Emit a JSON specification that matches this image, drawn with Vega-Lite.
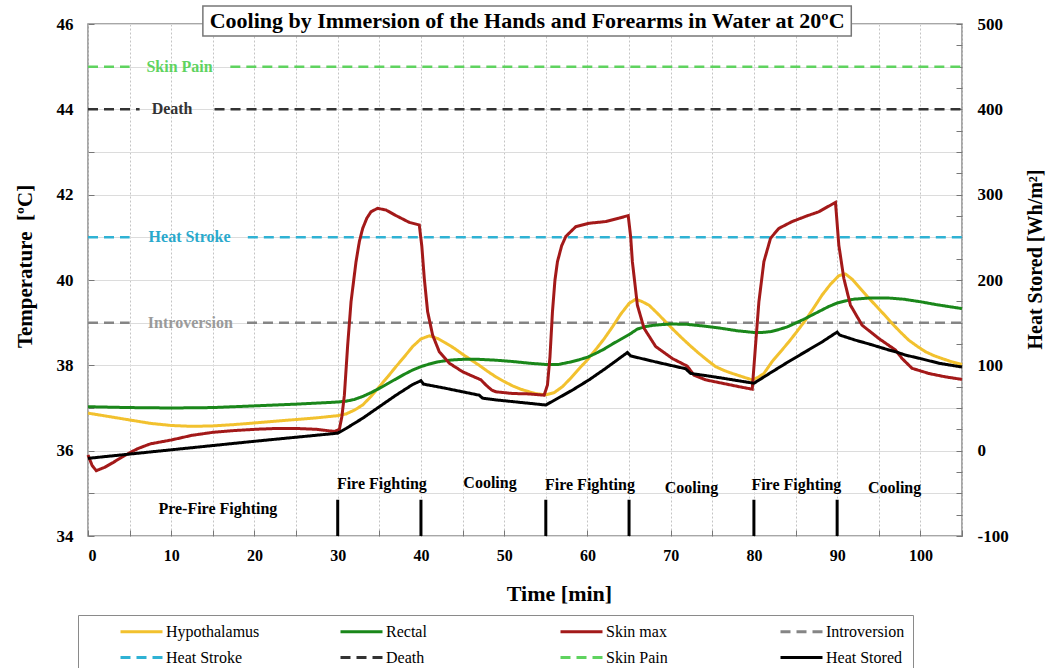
{
  "$schema": "https://vega.github.io/schema/vega-lite/v6.json",
  "width": 874,
  "height": 512,
  "autosize": "none",
  "padding": {"left": 88, "top": 24, "right": 86, "bottom": 132},
  "background": "white",
  "config": {
    "font": "Liberation Serif",
    "view": {"stroke": "#8a8a8a", "strokeWidth": 1.5},
    "axis": {"labelColor": "black", "titleColor": "black", "labelFont": "Liberation Serif", "titleFont": "Liberation Serif", "labelFontWeight": "bold", "titleFontWeight": "bold", "domain": false, "tickColor": "#777", "tickSize": -6}
  },
  "datasets": {
    "curves": [
      {"series":"Hypothalamus","t":0,"T":36.88},{"series":"Hypothalamus","t":2.5,"T":36.8},{"series":"Hypothalamus","t":5,"T":36.72},{"series":"Hypothalamus","t":7.5,"T":36.64},{"series":"Hypothalamus","t":10,"T":36.59},{"series":"Hypothalamus","t":12.5,"T":36.57},{"series":"Hypothalamus","t":15,"T":36.58},{"series":"Hypothalamus","t":17.5,"T":36.61},{"series":"Hypothalamus","t":20,"T":36.65},{"series":"Hypothalamus","t":22.5,"T":36.69},{"series":"Hypothalamus","t":25,"T":36.73},{"series":"Hypothalamus","t":27.5,"T":36.77},{"series":"Hypothalamus","t":30,"T":36.82},{"series":"Hypothalamus","t":31,"T":36.86},{"series":"Hypothalamus","t":32,"T":36.95},{"series":"Hypothalamus","t":33,"T":37.07},{"series":"Hypothalamus","t":34,"T":37.27},{"series":"Hypothalamus","t":35,"T":37.5},{"series":"Hypothalamus","t":36,"T":37.73},{"series":"Hypothalamus","t":37,"T":37.97},{"series":"Hypothalamus","t":38,"T":38.2},{"series":"Hypothalamus","t":39,"T":38.44},{"series":"Hypothalamus","t":40,"T":38.62},{"series":"Hypothalamus","t":41,"T":38.69},{"series":"Hypothalamus","t":42,"T":38.63},{"series":"Hypothalamus","t":43,"T":38.52},{"series":"Hypothalamus","t":44,"T":38.4},{"series":"Hypothalamus","t":45,"T":38.26},{"series":"Hypothalamus","t":46,"T":38.13},{"series":"Hypothalamus","t":47,"T":38.0},{"series":"Hypothalamus","t":48,"T":37.86},{"series":"Hypothalamus","t":49,"T":37.73},{"series":"Hypothalamus","t":50,"T":37.62},{"series":"Hypothalamus","t":51,"T":37.52},{"series":"Hypothalamus","t":52,"T":37.44},{"series":"Hypothalamus","t":53,"T":37.38},{"series":"Hypothalamus","t":54,"T":37.33},{"series":"Hypothalamus","t":55,"T":37.31},{"series":"Hypothalamus","t":56,"T":37.36},{"series":"Hypothalamus","t":57,"T":37.5},{"series":"Hypothalamus","t":58,"T":37.7},{"series":"Hypothalamus","t":59,"T":37.92},{"series":"Hypothalamus","t":60,"T":38.13},{"series":"Hypothalamus","t":61,"T":38.37},{"series":"Hypothalamus","t":62,"T":38.62},{"series":"Hypothalamus","t":63,"T":38.9},{"series":"Hypothalamus","t":64,"T":39.2},{"series":"Hypothalamus","t":65,"T":39.45},{"series":"Hypothalamus","t":65.8,"T":39.55},{"series":"Hypothalamus","t":66.5,"T":39.5},{"series":"Hypothalamus","t":67.4,"T":39.41},{"series":"Hypothalamus","t":68.4,"T":39.22},{"series":"Hypothalamus","t":69.4,"T":39.02},{"series":"Hypothalamus","t":70.4,"T":38.82},{"series":"Hypothalamus","t":71.4,"T":38.63},{"series":"Hypothalamus","t":72.4,"T":38.45},{"series":"Hypothalamus","t":73.4,"T":38.28},{"series":"Hypothalamus","t":74.4,"T":38.12},{"series":"Hypothalamus","t":75.4,"T":37.97},{"series":"Hypothalamus","t":76.4,"T":37.88},{"series":"Hypothalamus","t":77.4,"T":37.81},{"series":"Hypothalamus","t":78.5,"T":37.74},{"series":"Hypothalamus","t":79.8,"T":37.66},{"series":"Hypothalamus","t":80.5,"T":37.72},{"series":"Hypothalamus","t":81.2,"T":37.81},{"series":"Hypothalamus","t":82.2,"T":38.09},{"series":"Hypothalamus","t":83.2,"T":38.32},{"series":"Hypothalamus","t":84.2,"T":38.55},{"series":"Hypothalamus","t":85.2,"T":38.8},{"series":"Hypothalamus","t":86.2,"T":39.06},{"series":"Hypothalamus","t":87.2,"T":39.35},{"series":"Hypothalamus","t":88.2,"T":39.65},{"series":"Hypothalamus","t":89.2,"T":39.9},{"series":"Hypothalamus","t":90.2,"T":40.1},{"series":"Hypothalamus","t":91,"T":40.14},{"series":"Hypothalamus","t":91.8,"T":40.02},{"series":"Hypothalamus","t":92.6,"T":39.84},{"series":"Hypothalamus","t":93.6,"T":39.62},{"series":"Hypothalamus","t":94.6,"T":39.41},{"series":"Hypothalamus","t":95.6,"T":39.2},{"series":"Hypothalamus","t":96.6,"T":38.98},{"series":"Hypothalamus","t":97.6,"T":38.78},{"series":"Hypothalamus","t":98.6,"T":38.59},{"series":"Hypothalamus","t":99.6,"T":38.45},{"series":"Hypothalamus","t":100.6,"T":38.32},{"series":"Hypothalamus","t":101.6,"T":38.23},{"series":"Hypothalamus","t":102.6,"T":38.16},{"series":"Hypothalamus","t":103.8,"T":38.08},{"series":"Hypothalamus","t":105,"T":38.02},
      {"series":"Rectal","t":0,"T":37.03},{"series":"Rectal","t":5,"T":37.01},{"series":"Rectal","t":10,"T":37.0},{"series":"Rectal","t":15,"T":37.01},{"series":"Rectal","t":20,"T":37.05},{"series":"Rectal","t":25,"T":37.09},{"series":"Rectal","t":30,"T":37.14},{"series":"Rectal","t":31,"T":37.16},{"series":"Rectal","t":32,"T":37.2},{"series":"Rectal","t":33,"T":37.27},{"series":"Rectal","t":34,"T":37.36},{"series":"Rectal","t":35,"T":37.46},{"series":"Rectal","t":36,"T":37.57},{"series":"Rectal","t":37,"T":37.68},{"series":"Rectal","t":38,"T":37.79},{"series":"Rectal","t":39,"T":37.89},{"series":"Rectal","t":40,"T":37.97},{"series":"Rectal","t":41,"T":38.03},{"series":"Rectal","t":42,"T":38.08},{"series":"Rectal","t":43,"T":38.11},{"series":"Rectal","t":44,"T":38.13},{"series":"Rectal","t":45,"T":38.14},{"series":"Rectal","t":47,"T":38.14},{"series":"Rectal","t":49,"T":38.12},{"series":"Rectal","t":51,"T":38.09},{"series":"Rectal","t":53,"T":38.05},{"series":"Rectal","t":55,"T":38.02},{"series":"Rectal","t":56.5,"T":38.02},{"series":"Rectal","t":58,"T":38.08},{"series":"Rectal","t":59,"T":38.13},{"series":"Rectal","t":60,"T":38.19},{"series":"Rectal","t":61,"T":38.28},{"series":"Rectal","t":62,"T":38.38},{"series":"Rectal","t":63,"T":38.5},{"series":"Rectal","t":64,"T":38.61},{"series":"Rectal","t":65,"T":38.72},{"series":"Rectal","t":66,"T":38.85},{"series":"Rectal","t":67,"T":38.91},{"series":"Rectal","t":68,"T":38.94},{"series":"Rectal","t":70,"T":38.97},{"series":"Rectal","t":72,"T":38.96},{"series":"Rectal","t":74,"T":38.92},{"series":"Rectal","t":76,"T":38.87},{"series":"Rectal","t":78,"T":38.81},{"series":"Rectal","t":80,"T":38.77},{"series":"Rectal","t":81,"T":38.77},{"series":"Rectal","t":82,"T":38.79},{"series":"Rectal","t":83,"T":38.84},{"series":"Rectal","t":84,"T":38.9},{"series":"Rectal","t":85,"T":38.99},{"series":"Rectal","t":86,"T":39.08},{"series":"Rectal","t":87,"T":39.18},{"series":"Rectal","t":88,"T":39.28},{"series":"Rectal","t":89,"T":39.38},{"series":"Rectal","t":90,"T":39.46},{"series":"Rectal","t":91,"T":39.51},{"series":"Rectal","t":92,"T":39.55},{"series":"Rectal","t":94,"T":39.58},{"series":"Rectal","t":96,"T":39.58},{"series":"Rectal","t":98,"T":39.55},{"series":"Rectal","t":100,"T":39.49},{"series":"Rectal","t":102,"T":39.42},{"series":"Rectal","t":104,"T":39.36},{"series":"Rectal","t":105,"T":39.33},
      {"series":"Skin max","t":0,"T":35.9},{"series":"Skin max","t":0.5,"T":35.65},{"series":"Skin max","t":1,"T":35.53},{"series":"Skin max","t":2,"T":35.61},{"series":"Skin max","t":3,"T":35.72},{"series":"Skin max","t":4,"T":35.84},{"series":"Skin max","t":5,"T":35.95},{"series":"Skin max","t":6,"T":36.05},{"series":"Skin max","t":7.5,"T":36.16},{"series":"Skin max","t":10,"T":36.25},{"series":"Skin max","t":12.5,"T":36.36},{"series":"Skin max","t":15,"T":36.43},{"series":"Skin max","t":17.5,"T":36.47},{"series":"Skin max","t":20,"T":36.5},{"series":"Skin max","t":22.5,"T":36.52},{"series":"Skin max","t":25,"T":36.52},{"series":"Skin max","t":27.5,"T":36.5},{"series":"Skin max","t":29.6,"T":36.45},{"series":"Skin max","t":30.2,"T":36.5},{"series":"Skin max","t":30.5,"T":36.8},{"series":"Skin max","t":30.8,"T":37.3},{"series":"Skin max","t":31.2,"T":38.48},{"series":"Skin max","t":31.6,"T":39.49},{"series":"Skin max","t":32.2,"T":40.43},{"series":"Skin max","t":32.6,"T":40.9},{"series":"Skin max","t":33,"T":41.21},{"series":"Skin max","t":33.5,"T":41.45},{"series":"Skin max","t":34,"T":41.6},{"series":"Skin max","t":34.8,"T":41.68},{"series":"Skin max","t":35.8,"T":41.64},{"series":"Skin max","t":37,"T":41.51},{"series":"Skin max","t":38.6,"T":41.35},{"series":"Skin max","t":39.8,"T":41.29},{"series":"Skin max","t":40.1,"T":40.8},{"series":"Skin max","t":40.4,"T":40.04},{"series":"Skin max","t":40.8,"T":39.26},{"series":"Skin max","t":41.4,"T":38.71},{"series":"Skin max","t":42.2,"T":38.32},{"series":"Skin max","t":43.4,"T":38.05},{"series":"Skin max","t":45,"T":37.85},{"series":"Skin max","t":46.5,"T":37.72},{"series":"Skin max","t":47.2,"T":37.66},{"series":"Skin max","t":47.8,"T":37.54},{"series":"Skin max","t":48.5,"T":37.42},{"series":"Skin max","t":49,"T":37.38},{"series":"Skin max","t":51,"T":37.34},{"series":"Skin max","t":53,"T":37.33},{"series":"Skin max","t":54.8,"T":37.3},{"series":"Skin max","t":55.2,"T":37.54},{"series":"Skin max","t":55.5,"T":38.2},{"series":"Skin max","t":55.8,"T":39.26},{"series":"Skin max","t":56.1,"T":40.0},{"series":"Skin max","t":56.4,"T":40.43},{"series":"Skin max","t":56.9,"T":40.8},{"series":"Skin max","t":57.4,"T":41.02},{"series":"Skin max","t":58.6,"T":41.25},{"series":"Skin max","t":60.2,"T":41.33},{"series":"Skin max","t":62.2,"T":41.37},{"series":"Skin max","t":63.8,"T":41.45},{"series":"Skin max","t":64.9,"T":41.51},{"series":"Skin max","t":65.2,"T":41.0},{"series":"Skin max","t":65.4,"T":40.43},{"series":"Skin max","t":66,"T":39.41},{"series":"Skin max","t":66.8,"T":38.87},{"series":"Skin max","t":68.2,"T":38.44},{"series":"Skin max","t":70.2,"T":38.16},{"series":"Skin max","t":72,"T":37.98},{"series":"Skin max","t":72.8,"T":37.77},{"series":"Skin max","t":74.2,"T":37.66},{"series":"Skin max","t":76.2,"T":37.58},{"series":"Skin max","t":78.2,"T":37.5},{"series":"Skin max","t":79.8,"T":37.44},{"series":"Skin max","t":80.2,"T":38.48},{"series":"Skin max","t":80.6,"T":39.49},{"series":"Skin max","t":81.2,"T":40.43},{"series":"Skin max","t":82,"T":40.98},{"series":"Skin max","t":83,"T":41.21},{"series":"Skin max","t":84.6,"T":41.37},{"series":"Skin max","t":86.2,"T":41.49},{"series":"Skin max","t":87.8,"T":41.6},{"series":"Skin max","t":89.8,"T":41.82},{"series":"Skin max","t":90.2,"T":40.82},{"series":"Skin max","t":90.8,"T":40.04},{"series":"Skin max","t":91.6,"T":39.41},{"series":"Skin max","t":93,"T":38.94},{"series":"Skin max","t":95,"T":38.63},{"series":"Skin max","t":97,"T":38.36},{"series":"Skin max","t":97.8,"T":38.16},{"series":"Skin max","t":99,"T":37.93},{"series":"Skin max","t":101,"T":37.81},{"series":"Skin max","t":103,"T":37.73},{"series":"Skin max","t":105,"T":37.67}
    ],
    "heat": [
      {"series":"Heat Stored","t":0,"H":-9},{"series":"Heat Stored","t":10,"H":1},{"series":"Heat Stored","t":20,"H":11},{"series":"Heat Stored","t":30,"H":20.5},{"series":"Heat Stored","t":31,"H":26},{"series":"Heat Stored","t":33,"H":38},{"series":"Heat Stored","t":35,"H":51.5},{"series":"Heat Stored","t":37,"H":65},{"series":"Heat Stored","t":39,"H":77.5},{"series":"Heat Stored","t":40,"H":82},{"series":"Heat Stored","t":40.3,"H":78},{"series":"Heat Stored","t":43,"H":73},{"series":"Heat Stored","t":45,"H":69},{"series":"Heat Stored","t":47,"H":65},{"series":"Heat Stored","t":47.4,"H":61.5},{"series":"Heat Stored","t":49,"H":59.5},{"series":"Heat Stored","t":51,"H":57.5},{"series":"Heat Stored","t":53,"H":55.5},{"series":"Heat Stored","t":55,"H":53.5},{"series":"Heat Stored","t":58.2,"H":71},{"series":"Heat Stored","t":60.2,"H":83},{"series":"Heat Stored","t":62.2,"H":96.5},{"series":"Heat Stored","t":64.8,"H":115},{"series":"Heat Stored","t":65.2,"H":111},{"series":"Heat Stored","t":68.2,"H":104},{"series":"Heat Stored","t":71.8,"H":96},{"series":"Heat Stored","t":72.4,"H":90.5},{"series":"Heat Stored","t":74.2,"H":88},{"series":"Heat Stored","t":76.2,"H":85},{"series":"Heat Stored","t":80,"H":79},{"series":"Heat Stored","t":82.2,"H":92.5},{"series":"Heat Stored","t":84.2,"H":104.5},{"series":"Heat Stored","t":86.2,"H":116},{"series":"Heat Stored","t":88.2,"H":127.5},{"series":"Heat Stored","t":90,"H":139},{"series":"Heat Stored","t":90.3,"H":135.5},{"series":"Heat Stored","t":92.2,"H":129.5},{"series":"Heat Stored","t":94.2,"H":124},{"series":"Heat Stored","t":96.2,"H":118},{"series":"Heat Stored","t":97,"H":116},{"series":"Heat Stored","t":98.2,"H":112},{"series":"Heat Stored","t":100.2,"H":107.5},{"series":"Heat Stored","t":102.2,"H":102.5},{"series":"Heat Stored","t":105,"H":98}
    ],
    "thresholds": [
      {"series":"Skin Pain","T":45,"t":0,"t2":5.0},{"series":"Skin Pain","T":45,"t":17.1,"t2":105},
      {"series":"Death","T":44,"t":0,"t2":6.2},{"series":"Death","T":44,"t":15.2,"t2":105},
      {"series":"Heat Stroke","T":41,"t":0,"t2":5.0},{"series":"Heat Stroke","T":41,"t":19.2,"t2":105},
      {"series":"Introversion","T":39,"t":0,"t2":5.0},{"series":"Introversion","T":39,"t":19.1,"t2":105}
    ],
    "thrLabels": [
      {"series":"Skin Pain","t":11.0,"T":45},
      {"series":"Death","t":10.1,"T":44},
      {"series":"Heat Stroke","t":12.2,"T":41},
      {"series":"Introversion","t":12.3,"T":39}
    ],
    "phases": [
      {"t":30,"T":34,"T2":34.85},{"t":40,"T":34,"T2":34.85},{"t":55,"T":34,"T2":34.85},{"t":65,"T":34,"T2":34.85},{"t":80,"T":34,"T2":34.85},{"t":90,"T":34,"T2":34.85}
    ],
    "phaseLabels": [
      {"label":"Pre-Fire Fighting","t":15.6,"T":34.64},
      {"label":"Fire Fighting","t":35.3,"T":35.23},
      {"label":"Cooling","t":48.3,"T":35.25},
      {"label":"Fire Fighting","t":60.3,"T":35.2},
      {"label":"Cooling","t":72.5,"T":35.12},
      {"label":"Fire Fighting","t":85.1,"T":35.2},
      {"label":"Cooling","t":96.9,"T":35.12}
    ],
    "titleBox": [
      {"label":"Cooling by Immersion of the Hands and Forearms in Water at 20ºC","t":13.8,"t2":91.7,"T":45.72,"T2":46.42,"tc":52.75,"Tc":46.07}
    ]
  },
  "layer": [
    {
      "layer": [
        {
          "data": {"name": "thresholds"},
          "mark": {"type": "rule", "strokeWidth": 2.5},
          "encoding": {
            "x": {"field": "t", "type": "quantitative", "scale": {"domain": [0, 105], "nice": false, "zero": false},
              "axis": {"title": "Time [min]", "values": [0,5,10,15,20,25,30,35,40,45,50,55,60,65,70,75,80,85,90,95,100,105], "labelExpr": "datum.value % 10 === 0 && datum.value <= 100 ? '' + datum.value : ''", "labelFontSize": 16, "titleFontSize": 22, "titleX": 471, "titleAlign": "center", "labelPadding": 17, "titlePadding": 20, "grid": true, "gridColor": "#c4c4c4", "gridDash": [2, 2], "gridWidth": 1}},
            "x2": {"field": "t2"},
            "y": {"field": "T", "type": "quantitative", "scale": {"domain": [34, 46], "nice": false, "zero": false},
              "axis": {"title": "Temperature\u00a0\u00a0[ºC]", "orient": "left", "titleY": 242, "values": [34,35,36,37,38,39,40,41,42,43,44,45,46], "labelExpr": "datum.value % 2 === 0 ? '' + datum.value : ''", "labelFontSize": 17, "titleFontSize": 21, "labelPadding": 21, "titlePadding": 21, "grid": true, "gridColor": "#dcdcdc", "gridWidth": 1}},
            "color": {"field": "series", "type": "nominal",
              "scale": {"domain": ["Hypothalamus","Rectal","Skin max","Introversion","Heat Stroke","Death","Skin Pain","Heat Stored"], "range": ["#f2c12e","#1a871a","#a31919","#858585","#2fb2d4","#333333","#5fd35f","#000000"]},
              "legend": {"title": null, "orient": "none", "direction": "horizontal", "legendX": -10, "legendY": 591, "columns": 4, "gridAlign": "all", "columnPadding": 46, "rowPadding": 9, "padding": 8, "strokeColor": "#8a8a8a", "fillColor": "white", "symbolType": "M-3,0L3,0", "symbolSize": 196, "symbolStrokeWidth": 3, "symbolOffset": 47, "labelOffset": 16, "labelFont": "Liberation Serif", "labelFontSize": 16, "labelColor": "black", "labelLimit": 300}},
            "strokeDash": {"field": "series", "type": "nominal",
              "scale": {"domain": ["Hypothalamus","Rectal","Skin max","Introversion","Heat Stroke","Death","Skin Pain","Heat Stored"], "range": [[1,0],[1,0],[1,0],[10,6],[10,6],[10,6],[10,6],[1,0]]},
              "legend": {"title": null, "orient": "none", "direction": "horizontal", "legendX": -10, "legendY": 591, "columns": 4, "gridAlign": "all", "columnPadding": 46, "rowPadding": 9, "padding": 8, "strokeColor": "#8a8a8a", "fillColor": "white", "symbolType": "M-3,0L3,0", "symbolSize": 196, "symbolStrokeWidth": 3, "symbolOffset": 47, "labelOffset": 16, "labelFont": "Liberation Serif", "labelFontSize": 16, "labelColor": "black", "labelLimit": 300}}
          }
        },
        {
          "data": {"name": "curves"},
          "mark": {"type": "line", "strokeWidth": 3},
          "encoding": {
            "x": {"field": "t", "type": "quantitative"},
            "y": {"field": "T", "type": "quantitative"},
            "color": {"field": "series", "type": "nominal"},
            "strokeDash": {"field": "series", "type": "nominal"}
          }
        },
        {
          "data": {"name": "phases"},
          "mark": {"type": "rule", "strokeWidth": 3, "color": "black"},
          "encoding": {
            "x": {"field": "t", "type": "quantitative"},
            "y": {"field": "T", "type": "quantitative"},
            "y2": {"field": "T2"}
          }
        },
        {
          "data": {"name": "thrLabels"},
          "mark": {"type": "text", "font": "Liberation Serif", "fontWeight": "bold", "fontSize": 16, "align": "center", "baseline": "middle"},
          "encoding": {
            "x": {"field": "t", "type": "quantitative"},
            "y": {"field": "T", "type": "quantitative"},
            "text": {"field": "series"},
            "color": {"condition": [
              {"test": "datum.series === 'Skin Pain'", "value": "#5fd35f"},
              {"test": "datum.series === 'Death'", "value": "#333333"},
              {"test": "datum.series === 'Heat Stroke'", "value": "#2aa9cc"}
            ], "value": "#9a9a9a"}
          }
        },
        {
          "data": {"name": "phaseLabels"},
          "mark": {"type": "text", "font": "Liberation Serif", "fontWeight": "bold", "fontSize": 16, "align": "center", "baseline": "middle", "color": "black"},
          "encoding": {
            "x": {"field": "t", "type": "quantitative"},
            "y": {"field": "T", "type": "quantitative"},
            "text": {"field": "label"}
          }
        },
        {
          "data": {"name": "titleBox"},
          "mark": {"type": "rect", "fill": "white", "stroke": "#777777", "strokeWidth": 1.5},
          "encoding": {
            "x": {"field": "t", "type": "quantitative"},
            "x2": {"field": "t2"},
            "y": {"field": "T", "type": "quantitative"},
            "y2": {"field": "T2"}
          }
        },
        {
          "data": {"name": "titleBox"},
          "mark": {"type": "text", "font": "Liberation Serif", "fontWeight": "bold", "fontSize": 22, "align": "center", "baseline": "middle", "color": "black"},
          "encoding": {
            "x": {"field": "tc", "type": "quantitative"},
            "y": {"field": "Tc", "type": "quantitative"},
            "text": {"field": "label"}
          }
        }
      ]
    },
    {
      "data": {"name": "heat"},
      "mark": {"type": "line", "strokeWidth": 3},
      "encoding": {
        "x": {"field": "t", "type": "quantitative"},
        "y": {"field": "H", "type": "quantitative", "scale": {"domain": [-100, 500], "nice": false, "zero": false},
          "axis": {"title": "Heat Stored [Wh/m²]", "orient": "right", "titleAngle": 270, "titleBaseline": "top", "titleY": 235, "values": [-100,-75,-50,-25,0,25,50,75,100,125,150,175,200,225,250,275,300,325,350,375,400,425,450,475,500], "labelExpr": "datum.value % 100 === 0 ? '' + datum.value : ''", "labelFontSize": 17, "titleFontSize": 20, "labelPadding": 21, "titlePadding": 17, "grid": false}},
        "color": {"field": "series", "type": "nominal"},
        "strokeDash": {"field": "series", "type": "nominal"}
      }
    }
  ],
  "resolve": {"scale": {"y": "independent"}}
}
